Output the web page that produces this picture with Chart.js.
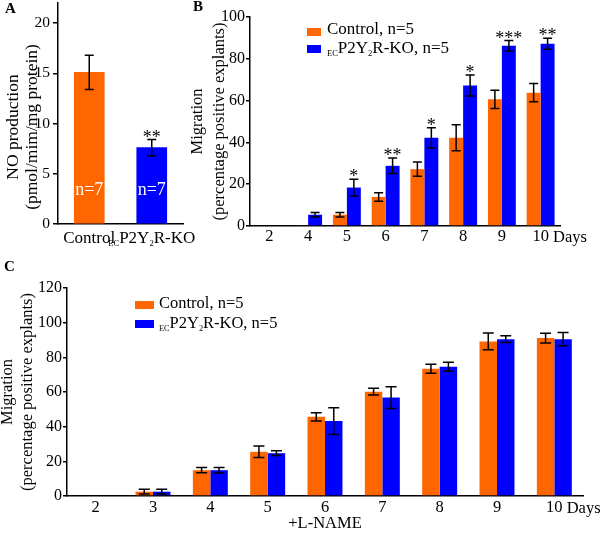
<!DOCTYPE html>
<html>
<head>
<meta charset="utf-8">
<script src="https://cdn.jsdelivr.net/npm/chart.js@4.4.1/dist/chart.umd.min.js"></script>
<style>
    body { margin: 0; background: #fff; width: 600px; height: 533px; position: relative; overflow: hidden; }
    canvas { position: absolute; }
    .tag { position: absolute; font: bold 15px 'Liberation Serif', 'Times New Roman', serif; color: #000; }
</style>
</head>
<body>
<canvas id="chartA" width="200" height="250" style="left:0;top:0"></canvas>
<canvas id="chartB" width="420" height="250" style="left:180px;top:0"></canvas>
<canvas id="chartC" width="600" height="278" style="left:0;top:255px"></canvas>
<div class="tag" style="left:5px;top:0">A</div>
<div class="tag" style="left:193px;top:-2px">B</div>
<div class="tag" style="left:4px;top:258px">C</div>

<script>
const FONT = "'Liberation Serif', 'Times New Roman', serif";
const ORANGE = '#ff6600';
const BLUE = '#0000ff';

// Panel A - NO production
const groupsA = ['Control', '[EC]P2Y[2]R-KO'];
const noValues = [15.1, 7.6];
const noErrors = [1.7, 0.8];
const noStars = ['', '**'];
const noCounts = ['n=7', 'n=7'];

// Panel B - migration, days
const daysB = ['2', '4', '5', '6', '7', '8', '9', '10'];
const controlB = [0, 0.4, 5.4, 13.9, 27.2, 42.2, 60.6, 63.8];
const controlErrB = [0, 0, 1.1, 2.0, 3.4, 6.2, 4.4, 4.4];
const koB = [0, 5.4, 18.4, 28.8, 42.2, 67.2, 86.2, 87.2];
const koErrB = [0, 1.1, 4.0, 3.7, 4.8, 5.0, 2.5, 2.6];
const starsB = ['', '', '*', '**', '*', '*', '***', '**'];

// Panel C - migration with L-NAME
const daysC = ['2', '3', '4', '5', '6', '7', '8', '9', '10'];
const controlC = [0, 2.5, 14.9, 25.5, 45.7, 60.2, 73.4, 89.2, 91.1];
const controlErrC = [0, 1.4, 1.5, 3.3, 2.4, 1.9, 2.6, 4.8, 2.8];
const koC = [0, 2.5, 14.9, 24.7, 43.2, 56.8, 74.5, 90.5, 90.5];
const koErrC = [0, 1.4, 1.6, 1.4, 7.7, 6.3, 2.6, 1.9, 3.8];

const legendLabels = ['Control, n=5', '[EC]P2Y[2]R-KO, n=5'];

// text with [subscript] parts
function drawRich(ctx, text, x, y, size, align) {
    const parts = text.split(/\[(.*?)\]/);
    let w = 0;
    parts.forEach((p, i) => {
        ctx.font = (i % 2 ? size * 0.5 : size) + 'px ' + FONT;
        w += ctx.measureText(p).width;
    });
    let cx = align === 'center' ? x - w / 2 : x;
    ctx.textAlign = 'left';
    ctx.textBaseline = 'alphabetic';
    parts.forEach((p, i) => {
        const sub = i % 2 === 1;
        ctx.font = (sub ? size * 0.5 : size) + 'px ' + FONT;
        ctx.fillText(p, cx, y + (sub ? size * 0.2 : 0));
        cx += ctx.measureText(p).width;
    });
}

function extras(cfg) {
    return {
        id: 'extras' + cfg.name,
        afterDatasetsDraw(chart) {
            const ctx = chart.ctx;
            const y = chart.scales.y;
            ctx.save();
            ctx.strokeStyle = '#000';
            ctx.fillStyle = '#000';
            ctx.lineWidth = 1.5;
            // error bars
            cfg.errors.forEach((errs, di) => {
                const meta = chart.getDatasetMeta(di);
                const vals = chart.data.datasets[di].data;
                meta.data.forEach((bar, i) => {
                    if (!errs[i]) return;
                    const top = y.getPixelForValue(vals[i] + errs[i]);
                    const bot = y.getPixelForValue(vals[i] - errs[i]);
                    const c = cfg.cap;
                    ctx.beginPath();
                    ctx.moveTo(bar.x, top); ctx.lineTo(bar.x, bot);
                    ctx.moveTo(bar.x - c, top); ctx.lineTo(bar.x + c, top);
                    ctx.moveTo(bar.x - c, bot); ctx.lineTo(bar.x + c, bot);
                    ctx.stroke();
                });
            });
            // significance stars
            if (cfg.stars) {
                const di = cfg.starsOn;
                const meta = chart.getDatasetMeta(di);
                const vals = chart.data.datasets[di].data;
                ctx.font = '18px ' + FONT;
                ctx.textAlign = 'center';
                ctx.textBaseline = 'alphabetic';
                meta.data.forEach((bar, i) => {
                    if (!cfg.stars[i]) return;
                    const top = y.getPixelForValue(vals[i] + cfg.errors[di][i]);
                    ctx.fillText(cfg.stars[i], bar.x, top + 3);
                });
            }
            // n labels inside bars
            if (cfg.counts) {
                const meta = chart.getDatasetMeta(0);
                ctx.fillStyle = '#fff';
                ctx.font = '18px ' + FONT;
                ctx.textAlign = 'center';
                meta.data.forEach((bar, i) => {
                    ctx.fillText(cfg.counts[i], bar.x, y.getPixelForValue(cfg.countLevel));
                });
                ctx.fillStyle = '#000';
            }
            // category labels with subscripts
            if (cfg.richLabels) {
                const x = chart.scales.x;
                cfg.richLabels.forEach((lab, i) => {
                    drawRich(ctx, lab, x.getPixelForValue(i), cfg.labelBaseline, 17, 'center');
                });
            }
            // rotated two-line y title
            if (cfg.yTitle) {
                const T = cfg.yTitle;
                ctx.font = T.size + 'px ' + FONT;
                ctx.textAlign = 'center';
                ctx.textBaseline = 'middle';
                T.lines.forEach((line, i) => {
                    ctx.save();
                    ctx.translate(T.xs[i], T.cy);
                    ctx.rotate(-Math.PI / 2);
                    ctx.fillText(line, 0, 0);
                    ctx.restore();
                });
            }
            // "Days" after the last tick
            if (cfg.days) {
                const x = chart.scales.x;
                const last = x.ticks.length - 1;
                ctx.font = cfg.days.size + 'px ' + FONT;
                const w = ctx.measureText(x.getLabelForValue(last)).width;
                const sp = ctx.measureText(' ').width;
                ctx.textAlign = 'left';
                ctx.textBaseline = 'alphabetic';
                ctx.fillText('Days', x.getPixelForValue(last) + w / 2 + sp, cfg.days.baseline);
            }
            // legend
            if (cfg.legend) {
                const L = cfg.legend;
                [ORANGE, BLUE].forEach((col, i) => {
                    ctx.fillStyle = col;
                    ctx.fillRect(L.x, L.boxY[i], L.boxW, L.boxH);
                    ctx.fillStyle = '#000';
                    drawRich(ctx, legendLabels[i], L.x + L.textDx, L.baseY[i], L.size, 'left');
                });
            }
            ctx.restore();
        }
    };
}

function yAxis(max, step, width, tickSize, tickLen, tickPad, title) {
    return {
        min: 0,
        max: max,
        ticks: { stepSize: step, color: '#000', font: { family: FONT, size: tickSize }, padding: tickPad },
        afterBuildTicks: s => { s.ticks = s.ticks.filter(t => t.value % step === 0); },
        afterFit: s => { s.width = width; s.paddingTop = 0; s.paddingBottom = 0; },
        grid: { drawOnChartArea: false, tickLength: tickLen, color: '#000', lineWidth: 1.5 },
        border: { color: '#000', width: 1.5 },
        title: title || { display: false }
    };
}

function xAxis(height, tickSize, tickPad, showTicks, title) {
    return {
        type: 'category',
        ticks: { display: showTicks, color: '#000', font: { family: FONT, size: tickSize }, padding: tickPad, maxRotation: 0, autoSkip: false },
        grid: { display: false },
        border: { color: '#000', width: 1.5 },
        afterFit: s => { s.height = height; s.paddingLeft = 0; s.paddingRight = 0; },
        title: title || { display: false }
    };
}

const baseOptions = {
    responsive: false,
    animation: false,
    plugins: { legend: { display: false }, tooltip: { enabled: false } }
};

// ---- Panel A
new Chart(document.getElementById('chartA'), {
    type: 'bar',
    data: {
        labels: groupsA,
        datasets: [{ data: noValues, backgroundColor: [ORANGE, BLUE], borderWidth: 0, barThickness: 30 }]
    },
    options: {
        ...baseOptions,
        layout: { padding: { top: 3, right: 17, left: 0, bottom: 0 } },
        scales: {
            x: xAxis(26, 17, 4, false),
            y: yAxis(22, 5, 58, 15.5, 5, 3)
        }
    },
    plugins: [extras({
        name: 'A', errors: [noErrors], cap: 4.5, stars: noStars, starsOn: 0,
        counts: noCounts, countLevel: 2.9, richLabels: groupsA, labelBaseline: 243,
        yTitle: { lines: ['NO production', '(pmol/mim/mg protein)'], xs: [13, 32], cy: 127, size: 17.5 }
    })]
});

// ---- Panel B
new Chart(document.getElementById('chartB'), {
    type: 'bar',
    data: {
        labels: daysB,
        datasets: [
            { data: controlB, backgroundColor: ORANGE, borderWidth: 0, barPercentage: 1, categoryPercentage: 0.72 },
            { data: koB, backgroundColor: BLUE, borderWidth: 0, barPercentage: 1, categoryPercentage: 0.72 }
        ]
    },
    options: {
        ...baseOptions,
        layout: { padding: { top: 17, right: 40, left: 0, bottom: 0 } },
        scales: {
            x: xAxis(24, 16.5, -7, true),
            y: yAxis(100, 20, 70, 16, 4, 1, {
                display: true,
                text: ['Migration', '(percentage positive explants)'],
                color: '#000',
                font: { family: FONT, size: 16.5, lineHeight: 22 / 16.5 },
                padding: { top: 7, bottom: 0 }
            })
        }
    },
    plugins: [extras({
        name: 'B', errors: [controlErrB, koErrB], cap: 4.5, stars: starsB, starsOn: 1,
        days: { size: 16.5, baseline: 242 },
        legend: { x: 127, boxY: [28, 45], boxW: 14, boxH: 8, textDx: 20, baseY: [34, 53], size: 17 }
    })]
});

// ---- Panel C
new Chart(document.getElementById('chartC'), {
    type: 'bar',
    data: {
        labels: daysC,
        datasets: [
            { data: controlC, backgroundColor: ORANGE, borderWidth: 0, barPercentage: 1, categoryPercentage: 0.61 },
            { data: koC, backgroundColor: BLUE, borderWidth: 0, barPercentage: 1, categoryPercentage: 0.61 }
        ]
    },
    options: {
        ...baseOptions,
        layout: { padding: { top: 33, right: 17, left: 0, bottom: 0 } },
        scales: {
            x: xAxis(37, 16.5, -6, true, {
                display: true,
                text: '+L-NAME',
                color: '#000',
                font: { family: FONT, size: 16.5, lineHeight: 1.1 },
                padding: { top: 0, bottom: 0 }
            }),
            y: yAxis(120, 20, 67, 16, 4, 1, {
                display: true,
                text: ['Migration', '(percentage positive explants)'],
                color: '#000',
                font: { family: FONT, size: 16.5, lineHeight: 20 / 16.5 },
                padding: { top: -2.5, bottom: 0 }
            })
        }
    },
    plugins: [extras({
        name: 'C', errors: [controlErrC, koErrC], cap: 5.5,
        days: { size: 16.5, baseline: 258 },
        legend: { x: 135, boxY: [46, 65], boxW: 19, boxH: 8, textDx: 24, baseY: [53, 73], size: 16.5 }
    })]
});
</script>
</body>
</html>
